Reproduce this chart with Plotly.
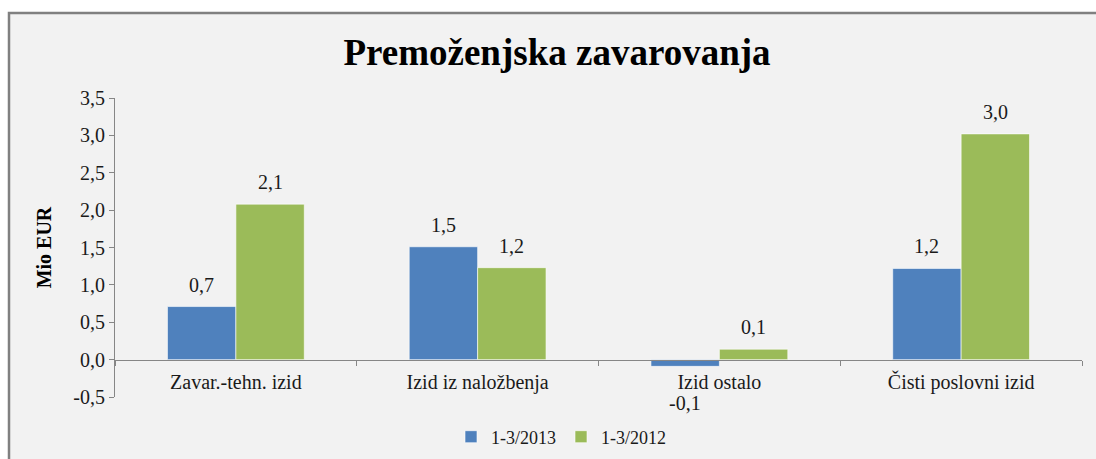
import plotly.graph_objects as go

categories = ["Zavar.-tehn. izid", "Izid iz naložbenja", "Izid ostalo", "Čisti poslovni izid"]
series_names = ["1-3/2013", "1-3/2012"]
values_2013 = [0.71, 1.51, -0.09, 1.22]
values_2012 = [2.08, 1.23, 0.14, 3.02]
colors = ["#4F81BD", "#9BBB59"]
y_ticks = [-0.5, 0.0, 0.5, 1.0, 1.5, 2.0, 2.5, 3.0, 3.5]
y_ticktext = [f"{t:.1f}".replace(".", ",") for t in y_ticks]

W, H = 1096, 459
ML, MR, MT, MB = 115, 14, 98, 62
PW, PH = W - ML - MR, H - MT - MB

serif = "Liberation Serif"

fig = go.Figure()
all_series = [values_2013, values_2012]
for name, vals, col in zip(series_names, all_series, colors):
    fig.add_trace(go.Bar(
        x=categories, y=vals, name=name,
        marker=dict(color=col, line=dict(color="rgba(255,255,255,0.6)", width=1)),
        hoverinfo="x+y",
    ))

bargap = 0.434
cat_px = PW / len(categories)
bar_px = cat_px * (1 - bargap) / 2

annotations = []
for si, vals in enumerate(all_series):
    shift = (-0.5 if si == 0 else 0.5) * bar_px
    for c, v in zip(categories, vals):
        txt = f"{v:.1f}".replace(".", ",")
        if v >= 0:
            annotations.append(dict(x=c, y=v, xref="x", yref="y", text=txt, showarrow=False,
                                    xshift=shift, yshift=9, yanchor="bottom",
                                    font=dict(family=serif, size=20, color="#1a1a1a")))
        else:
            annotations.append(dict(x=c, y=v, xref="x", yref="y", text=txt, showarrow=False,
                                    xshift=shift, yshift=-24, yanchor="top",
                                    font=dict(family=serif, size=20, color="#1a1a1a")))

# outer chart box
shapes = [dict(type="rect", xref="paper", yref="paper",
               x0=(9 - ML) / PW, x1=(W + 10 - ML) / PW,
               y0=(MT + PH - (H + 10)) / PH, y1=(MT + PH - 13) / PH,
               fillcolor="#F2F2F2", line=dict(color="#808080", width=2.5), layer="below")]

fig.update_layout(
    width=W, height=H,
    margin=dict(l=ML, r=MR, t=MT, b=MB, autoexpand=False),
    paper_bgcolor="white",
    plot_bgcolor="rgba(0,0,0,0)",
    separators=",.",
    barmode="group", bargap=bargap, bargroupgap=0,
    title=dict(text="<b>Premoženjska zavarovanja</b>", x=557 / W, xanchor="center",
               y=1 - 52 / H, yanchor="middle", yref="container",
               font=dict(family=serif, size=37, color="black")),
    showlegend=True,
    legend=dict(orientation="h", x=(561 - ML) / PW, xanchor="center",
                y=(MT + PH - 437) / PH, yanchor="middle",
                font=dict(family=serif, size=18, color="#1a1a1a"),
                bgcolor="rgba(0,0,0,0)", itemwidth=30, traceorder="normal"),
    xaxis=dict(anchor="free", position=0.125, showline=True, linecolor="#868686", linewidth=1,
               ticks="outside", tickson="boundaries", ticklen=5, tickcolor="#868686",
               tickfont=dict(family=serif, size=20, color="#1a1a1a"), showgrid=False,
               ticklabelstandoff=4, automargin=False),
    yaxis=dict(range=[-0.5, 3.5], tickvals=y_ticks, ticktext=y_ticktext, showgrid=False,
               zeroline=False, showline=True, linecolor="#868686", linewidth=1,
               ticks="outside", ticklen=5, tickcolor="#868686", automargin=False,
               tickfont=dict(family=serif, size=20, color="#1a1a1a"),
               title=dict(text="<b>Mio EUR</b>", font=dict(family=serif, size=20, color="black"),
                          standoff=16)),
    annotations=annotations,
    shapes=shapes,
)

fig.write_html("out.html", config={"displayModeBar": False},
               post_script="document.body.style.margin='0';document.body.style.padding='0';"
                           "document.body.style.overflow='hidden';")
